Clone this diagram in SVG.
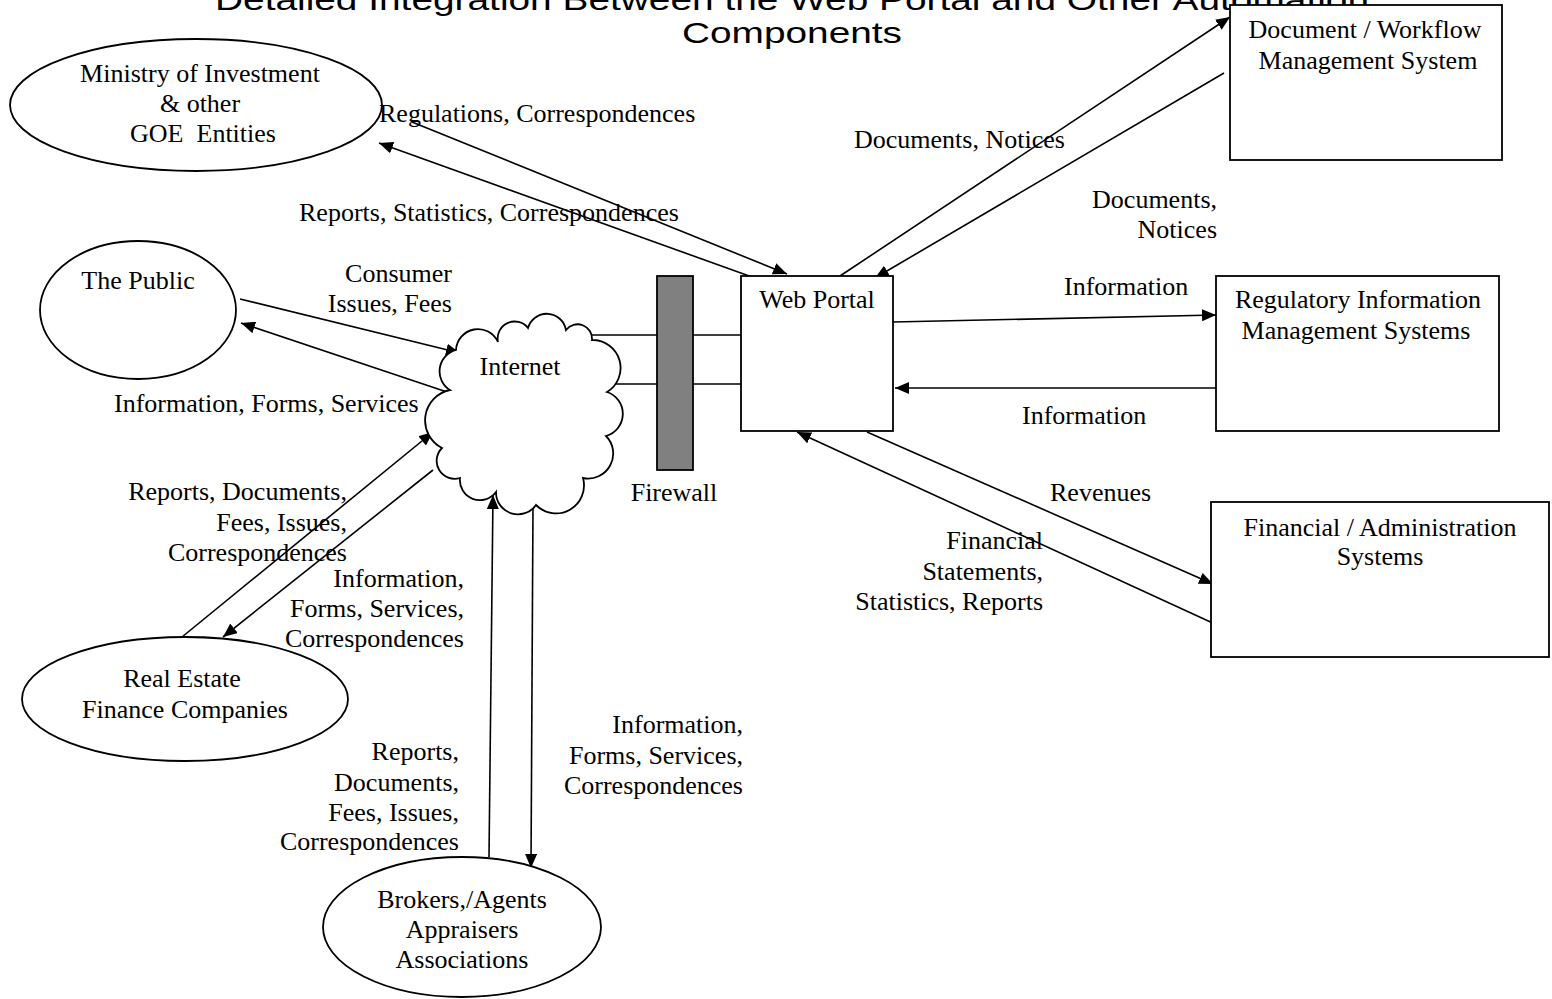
<svg xmlns="http://www.w3.org/2000/svg" width="1552" height="999" viewBox="0 0 1552 999">
<style>
.bg{fill:#ffffff}
.shape{fill:#ffffff;stroke:#000;stroke-width:1.8}
.fw{fill:#808080;stroke:#000;stroke-width:1.8}
.conn{stroke:#000;stroke-width:1.6;fill:none}
.arr{marker-end:url(#ah)}
.t{font-family:"Liberation Serif","Times New Roman",serif;font-size:26px;fill:#000}
.m{text-anchor:middle}
.e{text-anchor:end}
.title{font-family:"Liberation Sans",Arial,sans-serif;font-size:30px;fill:#000;text-anchor:middle}
</style>
<defs>
<marker id="ah" viewBox="0 0 14 12" markerWidth="14" markerHeight="12" refX="14" refY="6" orient="auto" markerUnits="userSpaceOnUse">
<path d="M0,0 L14,6 L0,12 z" fill="#000"/>
</marker>
</defs>
<rect class="bg" x="0" y="0" width="1552" height="999"/>

<g id="title">
<text class="title" x="792" y="10" textLength="1154" lengthAdjust="spacingAndGlyphs">Detailed Integration Between the Web Portal and Other Automation</text>
<text class="title" x="792" y="43" textLength="220" lengthAdjust="spacingAndGlyphs">Components</text>
</g>

<g id="connectors">
<line class="conn arr" x1="412" y1="122" x2="787" y2="274"/>
<line class="conn arr" x1="752" y1="277" x2="379" y2="143"/>
<line class="conn arr" x1="840" y1="276" x2="1230" y2="17"/>
<line class="conn arr" x1="1224" y1="73" x2="875" y2="278"/>
<line class="conn arr" x1="893" y1="322" x2="1216" y2="315"/>
<line class="conn arr" x1="1224" y1="388" x2="895" y2="388"/>
<line class="conn arr" x1="867" y1="432" x2="1213" y2="584"/>
<line class="conn arr" x1="1217" y1="625" x2="797" y2="432"/>
<line class="conn arr" x1="240" y1="299" x2="460" y2="353"/>
<line class="conn arr" x1="447" y1="392" x2="241" y2="323"/>
<line class="conn arr" x1="182" y1="637" x2="433" y2="432"/>
<line class="conn arr" x1="433" y1="470" x2="223" y2="637"/>
<line class="conn arr" x1="489" y1="857" x2="493" y2="495"/>
<line class="conn arr" x1="533" y1="505" x2="531" y2="868"/>
<line class="conn" x1="587" y1="335" x2="747" y2="335"/>
<line class="conn" x1="613" y1="384" x2="747" y2="384"/>
</g>

<g id="ministry">
<ellipse class="shape" cx="196" cy="105" rx="186" ry="66"/>
<text class="t m" x="200" y="82">Ministry of Investment</text>
<text class="t m" x="200" y="112">&amp; other</text>
<text class="t m" x="203" y="142" xml:space="preserve">GOE  Entities</text>
</g>

<g id="public">
<ellipse class="shape" cx="138" cy="310" rx="98" ry="69"/>
<text class="t m" x="138" y="289">The Public</text>
</g>

<g id="realestate">
<ellipse class="shape" cx="185" cy="699" rx="163" ry="62"/>
<text class="t m" x="182" y="687">Real Estate</text>
<text class="t m" x="185" y="718">Finance Companies</text>
</g>

<g id="brokers">
<ellipse class="shape" cx="462" cy="927" rx="139" ry="70"/>
<text class="t m" x="462" y="908">Brokers,/Agents</text>
<text class="t m" x="462" y="938">Appraisers</text>
<text class="t m" x="462" y="968">Associations</text>
</g>

<g id="internet">
<path class="shape" d="M450,390 A22,22 0 0 1 456,350 A22,22 0 0 1 498,342 A17,17 0 0 1 528,328 A19.5,19.5 0 0 1 566,330 A14.5,14.5 0 0 1 592,340 A28,28 0 0 1 607,392 A23,23 0 0 1 606,436 A25,25 0 0 1 583,478 A28,28 0 0 1 536,505 A22,22 0 0 1 496,492 A20,20 0 0 1 460,478 A18,18 0 0 1 442,448 A31,31 0 0 1 450,390 Z"/>
<text class="t m" x="520" y="375">Internet</text>
</g>

<g id="firewall">
<rect class="fw" x="657" y="276" width="36" height="194"/>
<text class="t m" x="674" y="501">Firewall</text>
</g>

<g id="webportal">
<rect class="shape" x="741" y="276" width="152" height="155"/>
<text class="t m" x="817" y="308">Web Portal</text>
</g>

<g id="docworkflow">
<rect class="shape" x="1230" y="5" width="272" height="155"/>
<text class="t m" x="1365" y="38">Document / Workflow</text>
<text class="t m" x="1368" y="69">Management System</text>
</g>

<g id="regulatory">
<rect class="shape" x="1216" y="276" width="283" height="155"/>
<text class="t m" x="1358" y="308">Regulatory Information</text>
<text class="t m" x="1356" y="339">Management Systems</text>
</g>

<g id="financial">
<rect class="shape" x="1211" y="502" width="338" height="155"/>
<text class="t m" x="1380" y="536">Financial / Administration</text>
<text class="t m" x="1380" y="565">Systems</text>
</g>

<g id="labels">
<text class="t" x="379" y="122">Regulations, Correspondences</text>
<text class="t" x="299" y="221">Reports, Statistics, Correspondences</text>
<text class="t" x="854" y="148">Documents, Notices</text>
<text class="t e" x="1217" y="208">Documents,</text>
<text class="t e" x="1217" y="238">Notices</text>
<text class="t e" x="452" y="282">Consumer</text>
<text class="t e" x="452" y="312">Issues, Fees</text>
<text class="t" x="114" y="412">Information, Forms, Services</text>
<text class="t" x="1064" y="295">Information</text>
<text class="t" x="1022" y="424">Information</text>
<text class="t" x="1050" y="501">Revenues</text>
<text class="t e" x="1043" y="549">Financial</text>
<text class="t e" x="1043" y="580">Statements,</text>
<text class="t e" x="1043" y="610">Statistics, Reports</text>
<text class="t e" x="347" y="500">Reports, Documents,</text>
<text class="t e" x="347" y="531">Fees, Issues,</text>
<text class="t e" x="347" y="561">Correspondences</text>
<text class="t e" x="464" y="587">Information,</text>
<text class="t e" x="464" y="617">Forms, Services,</text>
<text class="t e" x="464" y="647">Correspondences</text>
<text class="t e" x="459" y="760">Reports,</text>
<text class="t e" x="459" y="791">Documents,</text>
<text class="t e" x="459" y="821">Fees, Issues,</text>
<text class="t e" x="459" y="850">Correspondences</text>
<text class="t e" x="743" y="733">Information,</text>
<text class="t e" x="743" y="764">Forms, Services,</text>
<text class="t e" x="743" y="794">Correspondences</text>
</g>
</svg>
